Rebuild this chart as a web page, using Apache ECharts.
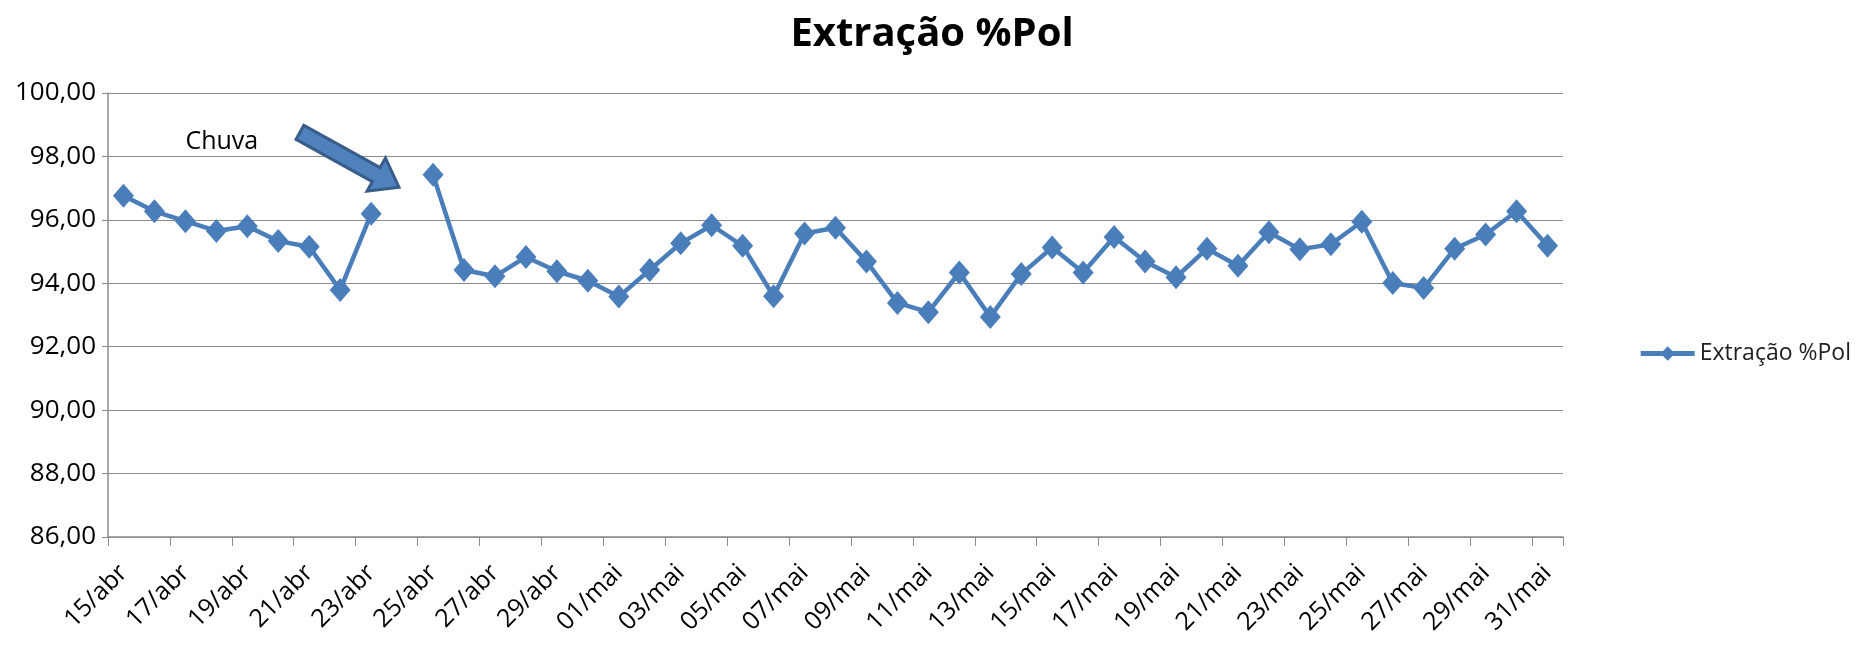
<!DOCTYPE html>
<html>
<head>
<meta charset="utf-8">
<script src="https://cdn.jsdelivr.net/npm/echarts@6/dist/echarts.min.js"></script>
<style>
  html, body { margin: 0; padding: 0; background: #fff; }
  #chart { width: 1864px; height: 646px; }
</style>
</head>
<body>
<div id="chart"></div>
<script>
// dias de 15/abr a 31/mai
var dias = [
  '15/abr', '16/abr', '17/abr', '18/abr', '19/abr', '20/abr', '21/abr', '22/abr',
  '23/abr', '24/abr', '25/abr', '26/abr', '27/abr', '28/abr', '29/abr', '30/abr',
  '01/mai', '02/mai', '03/mai', '04/mai', '05/mai', '06/mai', '07/mai', '08/mai',
  '09/mai', '10/mai', '11/mai', '12/mai', '13/mai', '14/mai', '15/mai', '16/mai',
  '17/mai', '18/mai', '19/mai', '20/mai', '21/mai', '22/mai', '23/mai', '24/mai',
  '25/mai', '26/mai', '27/mai', '28/mai', '29/mai', '30/mai', '31/mai'
]

// Extração %Pol (24/abr sem dado - chuva)
var extracaoPol = [
  96.76, 96.27, 95.96, 95.65, 95.80, 95.33, 95.15, 93.79,
  96.19, null, 97.42, 94.42, 94.22, 94.83, 94.38, 94.08,
  93.58, 94.42, 95.26, 95.83, 95.18, 93.59, 95.57, 95.75,
  94.69, 93.38, 93.09, 94.34, 92.94, 94.29, 95.13, 94.34,
  95.46, 94.69, 94.19, 95.09, 94.55, 95.61, 95.07, 95.23,
  95.94, 94.01, 93.85, 95.09, 95.54, 96.27, 95.18
]

var yTicks = { min: 86, max: 100, step: 2 }

var fonte = 'Open Sans'
var azul = '#4A7EBB'

var dom = document.getElementById('chart')
var myChart = echarts.init(dom)

myChart.setOption({
  animation: false,
  title: {
    text: 'Extração %Pol',
    left: 'center',
    top: 10,
    textStyle: { fontFamily: fonte, fontWeight: 'bold', fontSize: 40, color: '#000' }
  },
  legend: {
    orient: 'vertical',
    right: 8,
    top: 337,
    itemWidth: 54,
    itemHeight: 18,
    itemGap: 6,
    lineStyle: { width: 5 },
    textStyle: { fontFamily: fonte, fontSize: 23, color: '#222' },
    data: ['Extração %Pol']
  },
  grid: { left: 108, right: 301, top: 93, bottom: 109 },
  xAxis: {
    type: 'category',
    data: dias,
    boundaryGap: true,
    axisLine: { lineStyle: { color: '#8c8c8c', width: 1.5 } },
    axisTick: { show: true, interval: 1, length: 9, lineStyle: { color: '#8c8c8c' } },
    axisLabel: {
      interval: 1,
      rotate: 45,
      margin: 32,
      fontFamily: fonte,
      fontSize: 25,
      color: '#000'
    }
  },
  yAxis: {
    type: 'value',
    min: yTicks.min,
    max: yTicks.max,
    interval: yTicks.step,
    axisLine: { show: true, lineStyle: { color: '#8c8c8c', width: 1.5 } },
    axisTick: { show: true, length: 6, lineStyle: { color: '#8c8c8c' } },
    axisLabel: {
      margin: 12,
      fontFamily: fonte,
      fontSize: 26,
      color: '#000',
      formatter: function (v) { return v.toFixed(2).replace('.', ',') }
    },
    splitLine: { lineStyle: { color: '#8c8c8c', width: 1.2 } }
  },
  series: [
    {
      name: 'Extração %Pol',
      type: 'line',
      data: extracaoPol,
      connectNulls: false,
      showAllSymbol: true,
      symbol: 'diamond',
      symbolSize: [21, 24],
      itemStyle: { color: azul },
      lineStyle: { color: azul, width: 4.5 }
    }
  ]
})

// seta "Chuva" posicionada pelas coordenadas do gráfico
function pt(idx, val) {
  var a = myChart.convertToPixel({ gridIndex: 0 }, [Math.floor(idx), val])
  var b = myChart.convertToPixel({ gridIndex: 0 }, [Math.floor(idx) + 1, val])
  return [a[0] + (b[0] - a[0]) * (idx - Math.floor(idx)), a[1]]
}

function seta(p0, p1, w, h, L) {
  var dx = p1[0] - p0[0], dy = p1[1] - p0[1]
  var len = Math.sqrt(dx * dx + dy * dy)
  var ux = dx / len, uy = dy / len
  var nx = -uy, ny = ux
  var bx = p1[0] - ux * L, by = p1[1] - uy * L
  return [
    [p0[0] + nx * w, p0[1] + ny * w],
    [bx + nx * w, by + ny * w],
    [bx + nx * h, by + ny * h],
    p1,
    [bx - nx * h, by - ny * h],
    [bx - nx * w, by - ny * w],
    [p0[0] - nx * w, p0[1] - ny * w]
  ]
}

var cauda = pt(5.7, 98.76)
var ponta = pt(8.9, 97.03)
var txt = pt(2.0, 98.45)

myChart.setOption({
  graphic: [
    {
      type: 'polygon',
      shape: { points: seta(cauda, ponta, 8, 19, 26) },
      style: { fill: '#4F81BD', stroke: '#385D8A', lineWidth: 3, lineJoin: 'miter' },
      z: 100
    },
    {
      type: 'text',
      x: txt[0],
      y: txt[1],
      style: {
        text: 'Chuva',
        fontFamily: fonte,
        fontSize: 25,
        fill: '#000',
        verticalAlign: 'middle'
      },
      z: 100
    }
  ]
})

window.addEventListener('resize', function () {
  myChart.resize()
})
</script>
</body>
</html>
